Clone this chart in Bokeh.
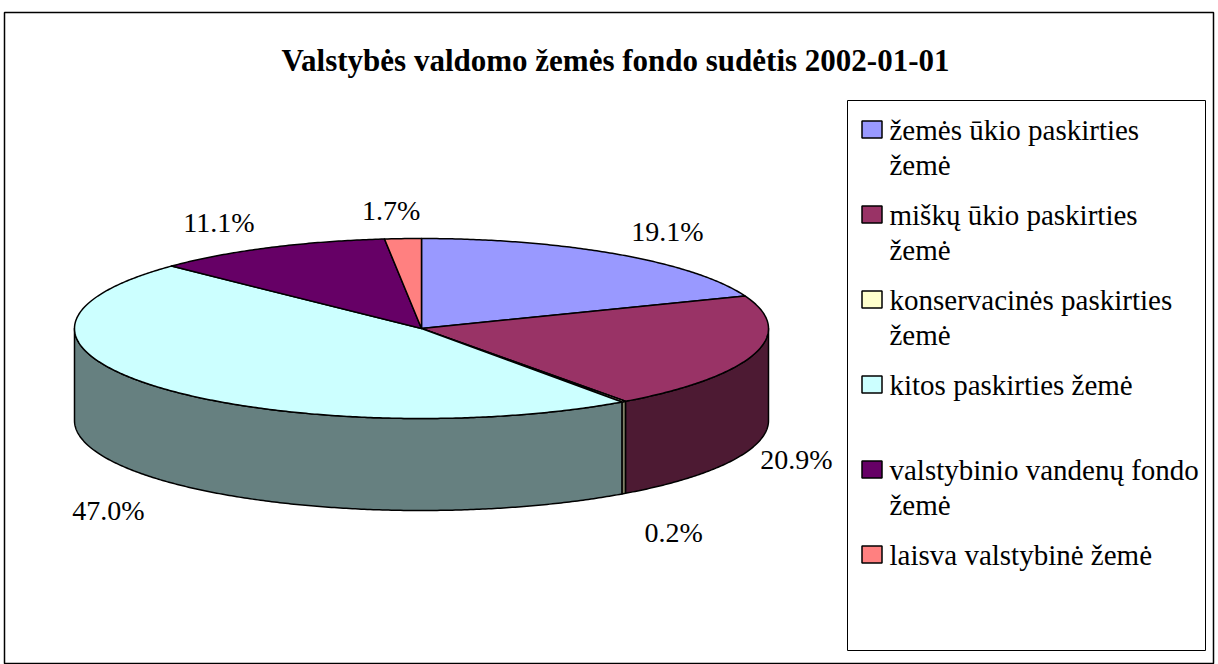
import textwrap
import numpy as np
from bokeh.plotting import figure
from bokeh.models import Range1d
from bokeh.core.properties import value
from bokeh.embed import file_html
from bokeh.resources import INLINE

# ---- data ----
title = "Valstybės valdomo žemės fondo sudėtis 2002-01-01"
categories = [
    "žemės ūkio paskirties žemė",
    "miškų ūkio paskirties žemė",
    "konservacinės paskirties žemė",
    "kitos paskirties žemė",
    "valstybinio vandenų fondo žemė",
    "laisva valstybinė žemė",
]
shares = [19.1, 20.9, 0.2, 47.0, 11.1, 1.7]
top_colors = ["#9999FF", "#993366", "#FFFFCC", "#CCFFFF", "#660066", "#FF8080"]
side_colors = ["#4D4D80", "#4D1A33", "#808066", "#668080", "#330033", "#804040"]

# ---- layout ----
W, H = 1218, 664
FONT = "Liberation Serif"
cx, cy, rx, ry, depth = 421.0, 328.0, 347.0, 90.0, 92.0
plot_right = 832.0

p = figure(width=W, height=H, x_range=Range1d(0, W), y_range=Range1d(H, 0),
           output_backend="svg", toolbar_location=None, min_border=0)
p.axis.visible = False
p.grid.visible = False
p.outline_line_color = None
p.background_fill_color = "white"
p.border_fill_color = "white"

# outer chart border
p.quad(left=[4], right=[1213], top=[12], bottom=[663], fill_color=None,
       line_color="black", line_width=1.5)


def pt(theta_deg):
    t = np.radians(theta_deg)
    return cx + rx * np.sin(t), cy - ry * np.cos(t)


total = float(sum(shares))
cum = np.concatenate([[0.0], np.cumsum(shares)]) / total * 360.0

# sides (front half: 90..270 deg clockwise from top)
sx, sy, sc = [], [], []
for i in range(len(shares)):
    a0, a1 = max(cum[i], 90.0), min(cum[i + 1], 270.0)
    if a1 <= a0:
        continue
    ts = np.linspace(a0, a1, max(4, int((a1 - a0) * 2)))
    x, y = pt(ts)
    xs = list(x) + list(x[::-1])
    ys = list(y) + list((y + depth)[::-1])
    sx.append(xs); sy.append(ys); sc.append(side_colors[i])
p.patches(sx, sy, fill_color=sc, line_color="black", line_width=1.5, line_join="round")

# tops
tx, ty = [], []
for i in range(len(shares)):
    ts = np.linspace(cum[i], cum[i + 1], max(3, int((cum[i + 1] - cum[i]) * 2)))
    x, y = pt(ts)
    tx.append([cx] + list(x)); ty.append([cy] + list(y))
p.patches(tx, ty, fill_color=top_colors, line_color="black", line_width=1.5, line_join="round")

# data labels (outside end)
lx, ly, lt = [], [], []
for i, v in enumerate(shares):
    mid = np.radians((cum[i] + cum[i + 1]) / 2)
    s, c = np.sin(mid), np.cos(mid)
    x = cx + rx * s + np.sign(s) * min(50.0, 220.0 * abs(s))
    if c >= 0:
        y = cy - (ry + 28) * c
    else:
        y = cy - (ry + 48) * c + depth
    x = min(x, plot_right - 36)
    lx.append(x); ly.append(y)
    lt.append(f"{v:.1f}%")
p.text(lx, ly, text=lt, text_font=value(FONT), text_font_size="28px",
       text_align="center", text_baseline="middle", text_color="black")

# title
p.text([615], [60], text=[title], text_font=value(FONT), text_font_size="31px",
       text_font_style="bold", text_align="center", text_baseline="middle")

# legend
p.quad(left=[847], right=[1205], top=[100], bottom=[650], fill_color=None,
       line_color="black", line_width=1)
ent_y0, ent_step, line_step = 129.0, 85.0, 35.0
qy, gx, gy, gt = [], [], [], []
for i, name in enumerate(categories):
    y0 = ent_y0 + i * ent_step
    qy.append(y0)
    for j, line in enumerate(textwrap.wrap(name, width=25)):
        gx.append(889); gy.append(y0 + j * line_step); gt.append(line)
p.rect(x=[871.5] * len(qy), y=qy, width=20, height=17, fill_color=top_colors,
       line_color="black", line_width=1.5)
p.text(gx, gy, text=gt, text_font=value(FONT), text_font_size="29px",
       text_align="left", text_baseline="middle", text_color="black")

open("out.html", "w").write(file_html(p, INLINE))
